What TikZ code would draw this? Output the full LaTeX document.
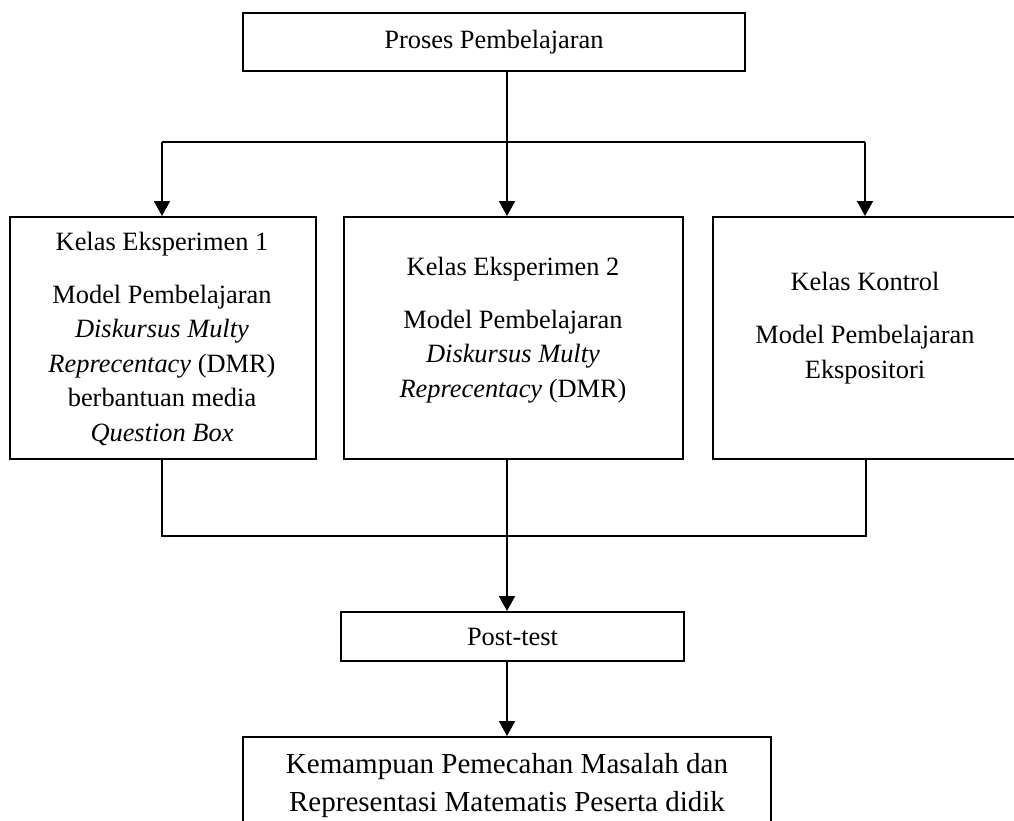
\documentclass[tikz,border=0pt]{standalone}
\usepackage{fontspec}
\setmainfont{Liberation Serif}
\usetikzlibrary{arrows.meta,calc}
\begin{document}
\begin{tikzpicture}[x=1pt,y=1pt,
  boxst/.style={draw=black,line width=2pt,minimum width=#1,inner sep=0pt},
  txt/.style={align=center,font=\fontsize{26.4}{34.5}\selectfont,inner sep=0pt},
  bigtxt/.style={align=center,font=\fontsize{29}{38}\selectfont,inner sep=0pt},
  conn/.style={line width=1.8pt},
  arr/.style={line width=1.8pt,-{Triangle[width=16pt,length=15pt]}}]
\useasboundingbox (0,0) rectangle (1014,-820);
\clip (0,0) rectangle (1014,-820);
\fill[white] (0,0) rectangle (1014,-820);
% boxes
\node[boxst=502pt,minimum height=58pt] (top) at (494,-42) {};
\node[txt] at (top.center) {Proses Pembelajaran};
\node[boxst=306pt,minimum height=242pt] (e1) at (163,-338) {};
\node[txt] at (162,-339) {Kelas Eksperimen 1\\[18pt]Model Pembelajaran\\\textit{Diskursus Multy}\\\textit{Reprecentacy} (DMR)\\berbantuan media\\\textit{Question Box}};
\node[boxst=339pt,minimum height=242pt] (e2) at (513.5,-338) {};
\node[txt] at (513,-330) {Kelas Eksperimen 2\\[18pt]Model Pembelajaran\\\textit{Diskursus Multy}\\\textit{Reprecentacy} (DMR)};
\node[boxst=340pt,minimum height=242pt] (k) at (883,-338) {};
\node[txt] at (865,-328) {Kelas Kontrol\\[19pt]Model Pembelajaran\\Ekspositori};
\node[boxst=343pt,minimum height=49pt] (post) at (512.5,-636.5) {};
\node[txt] at (post.center) {Post-test};
\node[boxst=528pt,minimum height=120pt] (hasil) at (507,-797) {};
\node[bigtxt] at (507,-786) {Kemampuan Pemecahan Masalah dan\\Representasi Matematis Peserta didik};
% connectors
\coordinate (j1) at (507,-142);
\coordinate (hl) at (162,-142);
\coordinate (hr) at (865,-142);
\draw[conn] (top.south -| j1) -- (j1);
\draw[conn] (hl) -- (hr);
\draw[arr] (hl) -- (e1.north -| hl);
\draw[arr] (j1) -- (e2.north -| j1);
\draw[arr] (hr) -- (k.north -| hr);
\coordinate (cl) at (162,-536);
\coordinate (cr) at (866,-536);
\coordinate (cm) at (507,-536);
\draw[conn] (e1.south -| cl) -- (cl) -- (cr) -- (k.south -| cr);
\draw[arr] (e2.south -| cm) -- (post.north -| cm);
\draw[arr] (post.south -| cm) -- (hasil.north -| cm);
\end{tikzpicture}
\end{document}
